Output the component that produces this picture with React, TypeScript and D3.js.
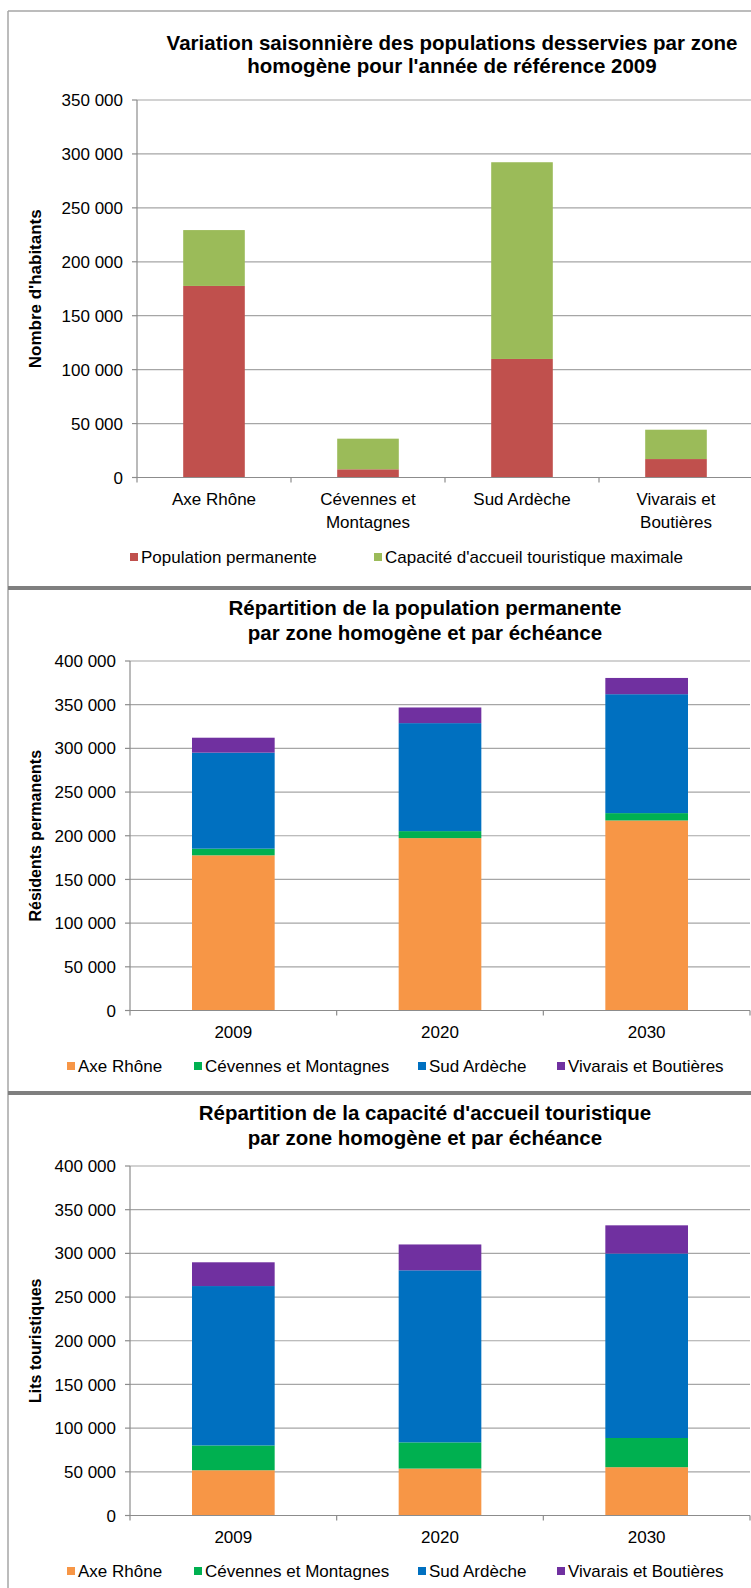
import * as d3 from "d3";

const WIDTH = 751;
const HEIGHT = 1588;
const FONT = "'Liberation Sans', Arial, sans-serif";

// chart 1 : 2009, per zone
const zoneNames = ["Axe Rhône", "Cévennes et Montagnes", "Sud Ardèche", "Vivarais et Boutières"];
const zoneLabelLines = [["Axe Rhône"], ["Cévennes et", "Montagnes"], ["Sud Ardèche"], ["Vivarais et", "Boutières"]];
const permanentPop2009 = [177600, 7600, 109900, 17100];
const touristCapacity2009 = [51800, 28400, 182400, 27200];
const seasonSeries = ["Population permanente", "Capacité d'accueil touristique maximale"];
const seasonColors = ["#C0504D", "#9BBB59"];

// charts 2 and 3 : per year
const years = ["2009", "2020", "2030"];
const residentsAxe = [177600, 197300, 217500];
const residentsCev = [7600, 8000, 8400];
const residentsSud = [109900, 123600, 136100];
const residentsViv = [17100, 17900, 18600];
const bedsAxe = [51800, 53700, 55300];
const bedsCev = [28400, 30000, 33400];
const bedsSud = [182400, 196900, 211100];
const bedsViv = [27200, 29600, 32300];
const zoneColors = ["#F79646", "#00B050", "#0070C0", "#7030A0"];

const fmt = d3
  .formatLocale({ decimal: ",", thousands: " ", grouping: [3], currency: ["", ""] })
  .format(",d");

type ChartProps = {
  categories: string[];
  labelLines: string[][];
  series: number[][];
  names: string[];
  colors: string[];
  plot: { x0: number; x1: number; y0: number; y1: number };
  yMax: number;
  step: number;
  title: string[];
  titleX: number;
  titleY: number[];
  titleSize: number;
  yTitle: string;
  yTitleSize: number;
  labelY: number[];
  legendX: number[];
  legendY: number;
};

function StackedChart(p: ChartProps) {
  const { plot } = p;
  const x = d3
    .scaleBand()
    .domain(p.categories)
    .range([plot.x0, plot.x1])
    .paddingInner(0.6)
    .paddingOuter(0.3);
  const y = d3.scaleLinear().domain([0, p.yMax]).range([plot.y1, plot.y0]);
  const ticks = d3.range(0, p.yMax + 1, p.step);

  const rows = p.categories.map((c, i) => {
    const r: any = { cat: c };
    p.names.forEach((n, j) => (r[n] = p.series[j][i]));
    return r;
  });
  const stacked = d3.stack<any>().keys(p.names)(rows);
  const stepX = x.step();

  return (
    <g fontFamily={FONT}>
      {ticks.map((t) => (
        <g key={t}>
          {t > 0 && (
            <line x1={plot.x0} x2={plot.x1} y1={y(t)} y2={y(t)} stroke="#A6A6A6" strokeWidth={1.2} />
          )}
          <line x1={plot.x0 - 5} x2={plot.x0} y1={y(t)} y2={y(t)} stroke="#8C8C8C" strokeWidth={1.2} />
          <text x={plot.x0 - 14} y={y(t)} dy="0.36em" textAnchor="end" fontSize={17} fill="#000">
            {fmt(t)}
          </text>
        </g>
      ))}
      {stacked.map((s, j) => (
        <g key={p.names[j]} fill={p.colors[j]}>
          {s.map((d, i) => (
            <rect
              key={i}
              x={x(p.categories[i])}
              width={x.bandwidth()}
              y={y(d[1])}
              height={y(d[0]) - y(d[1])}
            />
          ))}
        </g>
      ))}
      <line x1={plot.x0} x2={plot.x0} y1={plot.y0} y2={plot.y1} stroke="#8C8C8C" strokeWidth={1.2} />
      <line x1={plot.x0} x2={plot.x1} y1={plot.y1} y2={plot.y1} stroke="#8C8C8C" strokeWidth={1.2} />
      {d3.range(p.categories.length + 1).map((i) => (
        <line
          key={i}
          x1={plot.x0 + i * stepX}
          x2={plot.x0 + i * stepX}
          y1={plot.y1}
          y2={plot.y1 + 5}
          stroke="#8C8C8C"
          strokeWidth={1.2}
        />
      ))}
      {p.categories.map((c, i) => (
        <text key={c} x={(x(c) as number) + x.bandwidth() / 2} textAnchor="middle" fontSize={17}>
          {p.labelLines[i].map((l, k) => (
            <tspan key={k} x={(x(c) as number) + x.bandwidth() / 2} y={p.labelY[k]}>
              {l}
            </tspan>
          ))}
        </text>
      ))}
      {p.title.map((t, k) => (
        <text key={k} x={p.titleX} y={p.titleY[k]} textAnchor="middle" fontSize={p.titleSize} fontWeight="bold">
          {t}
        </text>
      ))}
      <text
        transform={`translate(41,${(plot.y0 + plot.y1) / 2}) rotate(-90)`}
        textAnchor="middle"
        fontSize={p.yTitleSize}
        fontWeight="bold"
      >
        {p.yTitle}
      </text>
      {p.names.map((n, j) => (
        <g key={n}>
          <rect x={p.legendX[j] - 11} y={p.legendY - 10} width={8} height={8} fill={p.colors[j]} />
          <text x={p.legendX[j]} y={p.legendY} fontSize={17}>
            {n}
          </text>
        </g>
      ))}
    </g>
  );
}

export default function App() {
  const chart23 = {
    categories: years,
    labelLines: years.map((yr) => [yr]),
    names: zoneNames,
    colors: zoneColors,
    yMax: 400000,
    step: 50000,
    titleX: 425,
    titleSize: 20.5,
    yTitleSize: 16,
    legendX: [78, 205, 429, 568],
  };
  return (
    <svg
      width={WIDTH}
      height={HEIGHT}
      style={{ position: "absolute", left: 0, top: 0, background: "#fff" }}
    >
      <rect width={WIDTH} height={HEIGHT} fill="#fff" />
      <line x1={8} x2={WIDTH} y1={11} y2={11} stroke="#A6A6A6" strokeWidth={1.5} />
      <line x1={8} x2={8} y1={11} y2={HEIGHT} stroke="#A6A6A6" strokeWidth={1.5} />
      <StackedChart
        categories={zoneNames}
        labelLines={zoneLabelLines}
        series={[permanentPop2009, touristCapacity2009]}
        names={seasonSeries}
        colors={seasonColors}
        plot={{ x0: 137, x1: 753, y0: 100, y1: 477.5 }}
        yMax={350000}
        step={50000}
        title={["Variation saisonnière des populations desservies par zone", "homogène pour l'année de référence 2009"]}
        titleX={452}
        titleY={[50, 73]}
        titleSize={20.5}
        yTitle="Nombre d'habitants"
        yTitleSize={17}
        labelY={[505, 528]}
        legendX={[141, 385]}
        legendY={563}
      />
      <line x1={8} x2={WIDTH} y1={588} y2={588} stroke="#7F7F7F" strokeWidth={4} />
      <StackedChart
        {...chart23}
        series={[residentsAxe, residentsCev, residentsSud, residentsViv]}
        plot={{ x0: 130, x1: 750, y0: 661, y1: 1010.5 }}
        title={["Répartition de la population permanente", "par zone homogène et par échéance"]}
        titleY={[615, 640]}
        yTitle="Résidents permanents"
        labelY={[1038]}
        legendY={1072}
      />
      <line x1={8} x2={WIDTH} y1={1093} y2={1093} stroke="#7F7F7F" strokeWidth={4} />
      <StackedChart
        {...chart23}
        series={[bedsAxe, bedsCev, bedsSud, bedsViv]}
        plot={{ x0: 130, x1: 750, y0: 1166, y1: 1515.5 }}
        title={["Répartition de la capacité d'accueil touristique", "par zone homogène et par échéance"]}
        titleY={[1120, 1145]}
        yTitle="Lits touristiques"
        labelY={[1543]}
        legendY={1577}
      />
    </svg>
  );
}
